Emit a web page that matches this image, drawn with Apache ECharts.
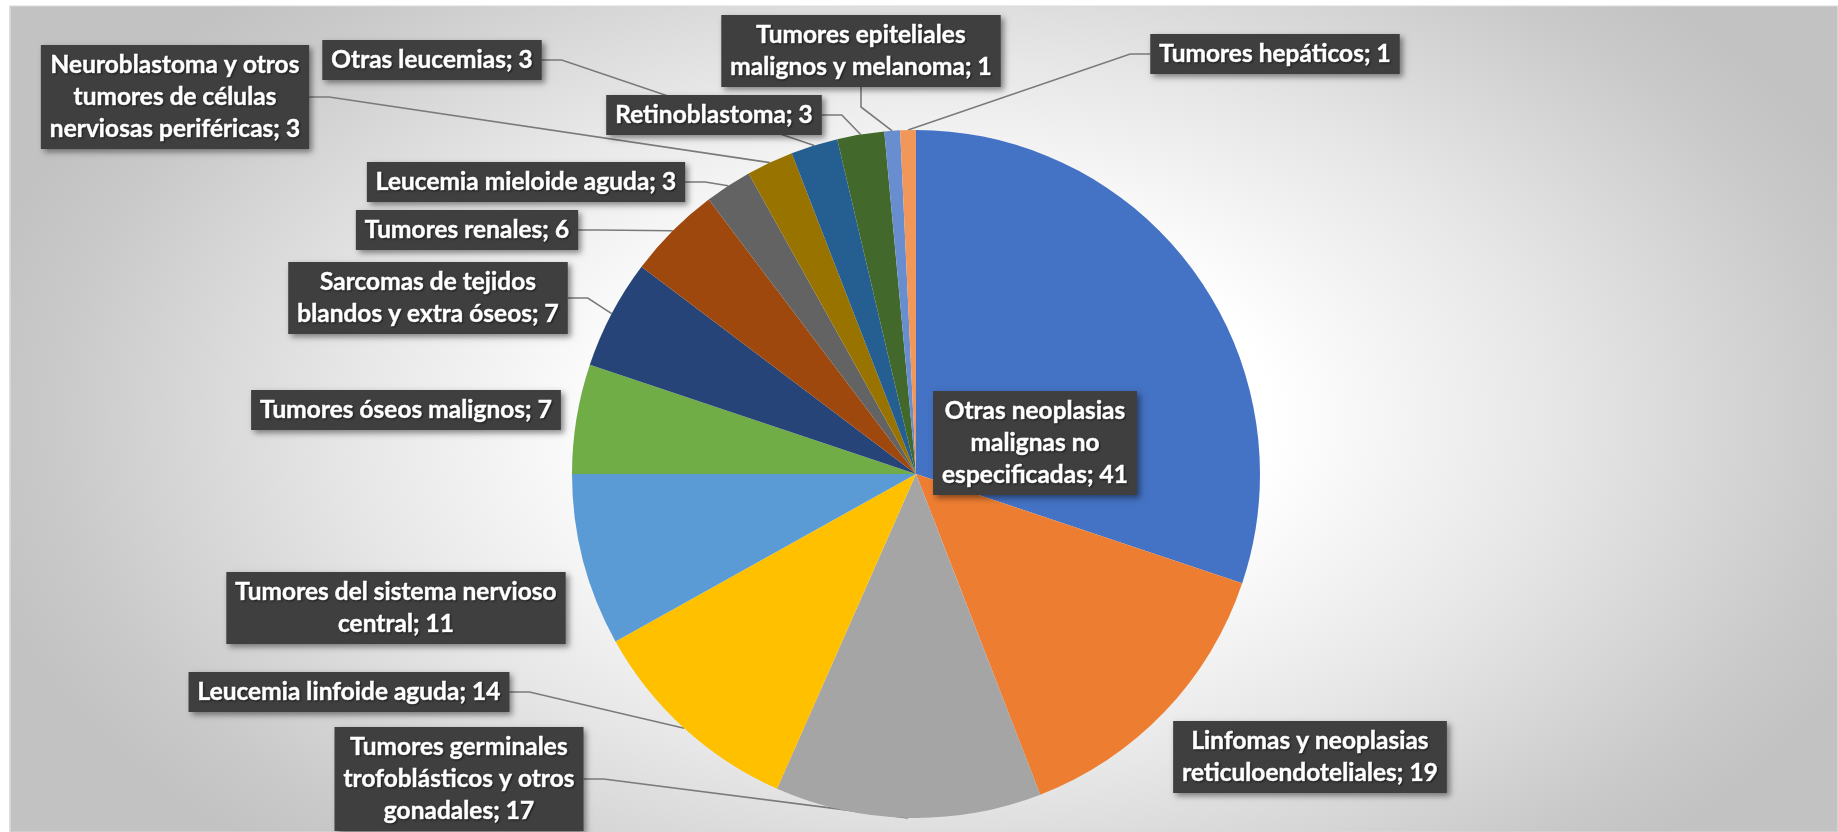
<!DOCTYPE html>
<html style="height:100%;width:100%;">
<head>
  <meta charset="utf-8">
  <title>Pie: tumores</title>
  <script src="https://cdn.jsdelivr.net/npm/echarts@6/dist/echarts.min.js"></script>
</head>
<body style="margin:0px;height:100%;width:100%;background:#ffffff;">
  <div id="main" style="width:1838px;height:832px"></div>
  <script type="text/javascript" charset="utf-8">
    // datos
    var categories = [
      'Otras neoplasias malignas no especificadas',
      'Linfomas y neoplasias reticuloendoteliales',
      'Tumores germinales trofoblásticos y otros gonadales',
      'Leucemia linfoide aguda',
      'Tumores del sistema nervioso central',
      'Tumores óseos malignos',
      'Sarcomas de tejidos blandos y extra óseos',
      'Tumores renales',
      'Leucemia mieloide aguda',
      'Neuroblastoma y otros tumores de células nerviosas periféricas',
      'Otras leucemias',
      'Retinoblastoma',
      'Tumores epiteliales malignos y melanoma',
      'Tumores hepáticos'
    ];
    var values = [41, 19, 17, 14, 11, 7, 7, 6, 3, 3, 3, 3, 1, 1];

    // estilo
    var colors = ['#4472C4', '#ED7D31', '#A5A5A5', '#FFC000', '#5B9BD5', '#70AD47',
      '#264478', '#9E480E', '#636363', '#997300', '#255E91', '#43682B', '#698ED0', '#F1975A'];
    // palabras por linea en cada etiqueta (la ultima linea lleva el resto)
    var lineBreaks = [[2, 2], [3], [2, 3], [], [4], [], [3], [], [], [3, 3], [], [], [2], []];
    // centro de cada etiqueta en px
    var labelCenters = [
      [1035, 443], [1310, 757], [459, 779], [349, 692], [396, 608], [406, 410], [428, 298],
      [467, 230], [526, 182], [175, 97], [432, 60], [714, 115], [861, 51], [1275, 54]
    ];
    var noLeader = [0, 1, 4, 5];

    function wrapLabel(idx, text) {
      var words = text.split(' ');
      var lines = [];
      var pos = 0;
      lineBreaks[idx].forEach(function(n) {
        lines.push(words.slice(pos, pos + n).join(' '));
        pos += n;
      });
      lines.push(words.slice(pos).join(' '));
      return lines.join('\n');
    }

    var myChart = echarts.init(document.getElementById('main'));

    var data = categories.map(function(name, i) {
      var item = { name: name, value: values[i], itemStyle: { color: colors[i] } };
      if (noLeader.indexOf(i) >= 0) item.labelLine = { show: false };
      return item;
    });

    // fondo con degradado radial (eliptico via escala)
    var sx = 1.667;
    var option = {
      animation: false,
      graphic: [{
        type: 'rect',
        z: -10,
        x: 10,
        y: 6,
        scaleX: sx,
        shape: { x: 0, y: 0, width: 1828 / sx, height: 826 },
        style: {
          fill: {
            type: 'radial',
            x: (950 - 10) / sx,
            y: 420 - 6,
            r: 600,
            global: true,
            colorStops: [
              { offset: 0, color: '#ffffff' },
              { offset: 0.32, color: '#ffffff' },
              { offset: 0.6, color: '#e7e7e7' },
              { offset: 0.9, color: '#c9c9c9' },
              { offset: 1, color: '#c2c2c2' }
            ]
          },
          stroke: '#d9d9d9',
          lineWidth: 1,
          strokeNoScale: true
        }
      }],
      series: [{
        type: 'pie',
        center: [916, 474],
        radius: 344,
        startAngle: 90,
        clockwise: true,
        avoidLabelOverlap: false,
        data: data,
        itemStyle: { borderWidth: 0 },
        label: {
          show: true,
          position: 'outside',
          formatter: function(p) {
            return wrapLabel(p.dataIndex, p.name + '; ' + p.value);
          },
          fontFamily: 'Lato',
          fontWeight: 'bold',
          fontSize: 24.5,
          lineHeight: 32,
          color: '#ffffff',
          textBorderColor: '#ffffff',
          textBorderWidth: 0.6,
          align: 'center',
          backgroundColor: '#3f3f3f',
          padding: [4, 9],
          shadowColor: 'rgba(0,0,0,0.45)',
          shadowBlur: 6,
          shadowOffsetX: 3,
          shadowOffsetY: 3,
          textShadowColor: 'rgba(0,0,0,0.5)',
          textShadowBlur: 2,
          textShadowOffsetX: 1,
          textShadowOffsetY: 1
        },
        labelLine: {
          show: true,
          length: 20,
          length2: 20,
          lineStyle: { color: '#7a7a7a', width: 1.6 }
        },
        labelLayout: function(params) {
          var c = labelCenters[params.dataIndex];
          return { x: c[0], y: c[1], align: 'center', verticalAlign: 'middle' };
        }
      }]
    };

    if (option && typeof option === 'object') {
      myChart.setOption(option, true);
    }
  </script>
</body>
</html>
